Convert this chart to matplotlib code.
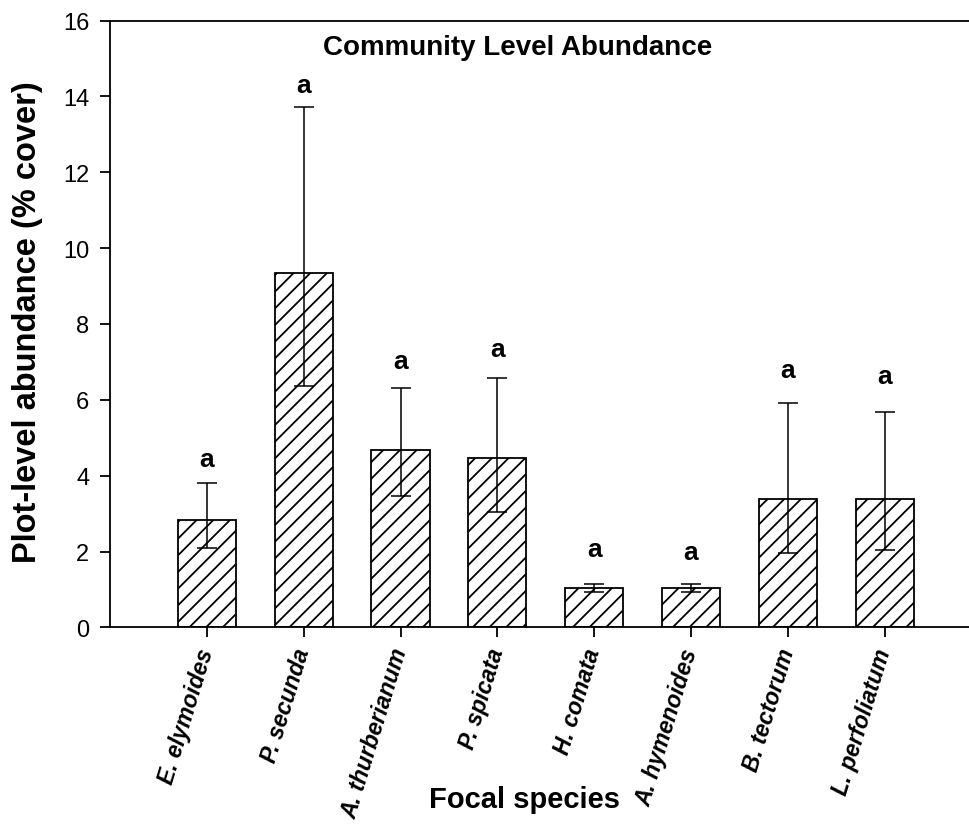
import numpy as np
import matplotlib
matplotlib.use('Agg')
import matplotlib.pyplot as plt

#%% data
species = ['E. elymoides', 'P. secunda', 'A. thurberianum', 'P. spicata',
           'H. comata', 'A. hymenoides', 'B. tectorum', 'L. perfoliatum']
mean_cover = [2.83, 9.34, 4.68, 4.48, 1.05, 1.05, 3.39, 3.39]
upper_ci = [3.82, 13.73, 6.31, 6.58, 1.15, 1.15, 5.92, 5.67]
lower_ci = [2.10, 6.36, 3.47, 3.05, 0.94, 0.94, 1.95, 2.03]
letters = ['a', 'a', 'a', 'a', 'a', 'a', 'a', 'a']
letter_y = [4.44, 14.30, 7.03, 7.34, 2.07, 1.99, 6.79, 6.63]
y_ticks = [0, 2, 4, 6, 8, 10, 12, 14, 16]

#%% style
plt.rcParams['font.family'] = ['Liberation Sans', 'DejaVu Sans']
plt.rcParams['hatch.linewidth'] = 1.3
plt.rcParams['hatch.color'] = 'black'

x = np.arange(len(species))
mean_arr = np.array(mean_cover)
err = [mean_arr - np.array(lower_ci), np.array(upper_ci) - mean_arr]

fig = plt.figure(figsize=(9.69, 8.28), dpi=100)
ax = fig.add_axes([0.1135, 0.241, 0.8865, 0.733])

ax.bar(x, mean_cover, width=0.6, color='white', edgecolor='black',
       linewidth=1.3, hatch='//', zorder=2)
ax.errorbar(x, mean_cover, yerr=err, fmt='none', ecolor='black',
            elinewidth=1.1, capsize=7, capthick=1.1, zorder=3)

# significance letters
for xi, yi, lab in zip(x, letter_y, letters):
    ax.text(xi, yi, lab, ha='center', va='center', fontsize=19,
            fontweight='bold')

ax.set_xlim(-1, 7.87)
ax.set_ylim(0, 16)
ax.set_yticks(y_ticks)
ax.set_yticklabels([str(t) for t in y_ticks], fontsize=17)
ax.set_xticks(x)
ax.set_xticklabels(species, rotation=73, ha='right', va='center',
                   rotation_mode='anchor', fontsize=16.5,
                   fontweight='bold', fontstyle='italic')

ax.spines['right'].set_visible(False)
for s in ['left', 'bottom', 'top']:
    ax.spines[s].set_linewidth(1.3)
ax.tick_params(axis='both', direction='out', length=7, width=1.3)
ax.tick_params(axis='x', pad=8)
ax.tick_params(axis='y', pad=8)

ax.set_ylabel('Plot-level abundance (% cover)', fontsize=23.5,
              fontweight='bold', va='center')
ax.yaxis.set_label_coords(-0.0955, 0.505)
ax.set_xlabel('Focal species', fontsize=21, fontweight='bold')
ax.xaxis.label.set_va('center')
ax.xaxis.set_label_coords(0.483, -0.283)

ax.text(0.475, 0.956, 'Community Level Abundance', transform=ax.transAxes,
        ha='center', va='center', fontsize=20, fontweight='bold')

fig.savefig('out.png', dpi=100)
